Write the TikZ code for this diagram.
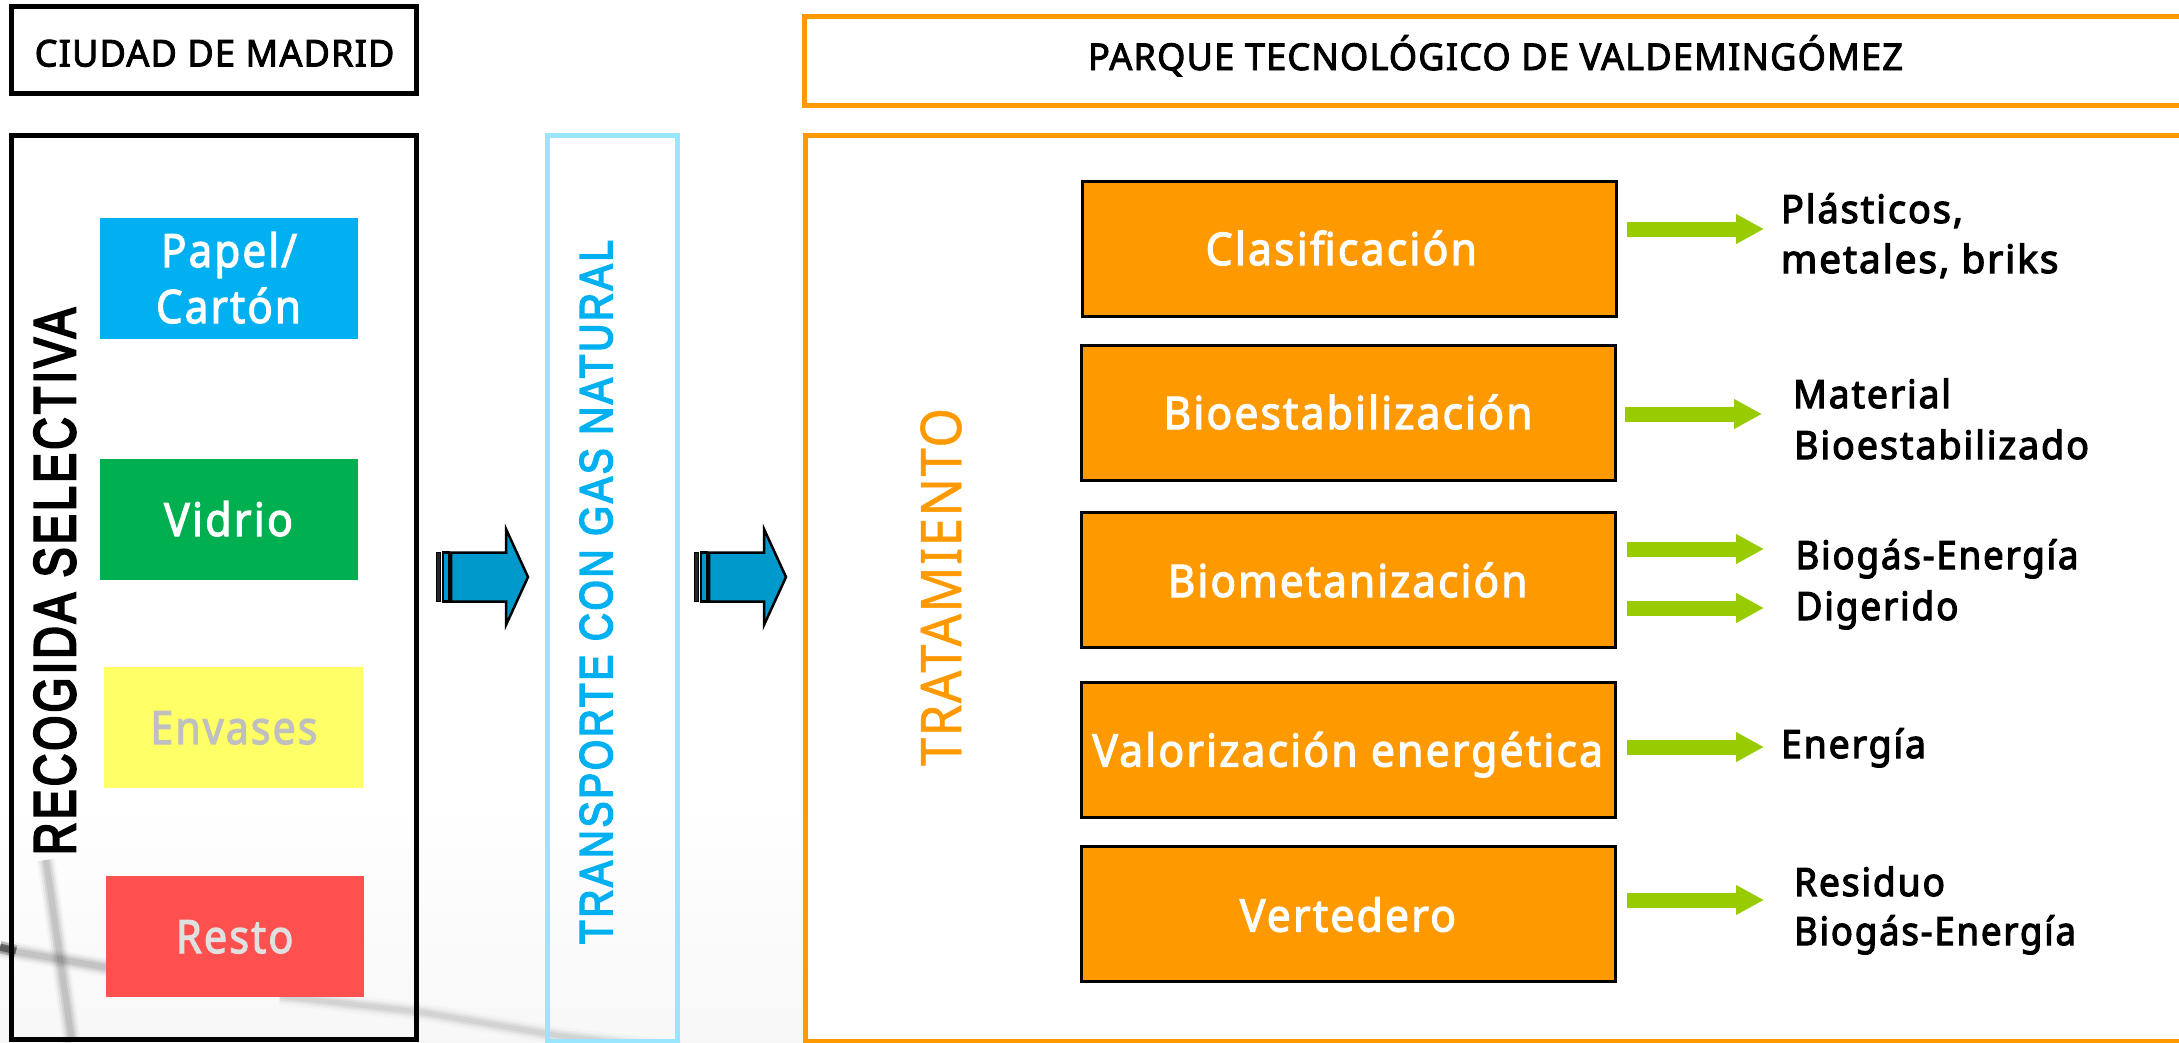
\documentclass[tikz,border=0pt]{standalone}
\usepackage{fontspec}
\usepackage{graphicx}
\usetikzlibrary{arrows.meta}
\setmainfont{Noto Sans}
\newfontfamily\lab[LetterSpace=5]{Noto Sans}
\newfontfamily\caps[LetterSpace=3]{Noto Sans}
\newfontfamily\ari[LetterSpace=7]{Liberation Sans}
% heaviness (outline width), font, size, width, text: text at a given size, stretched horizontally to a given width
\newcommand{\fit}[5]{\resizebox{#4pt}{\height}{\fontsize{#3}{#3}#2\selectfont\special{pdf:code 2 Tr #1 w}#5\special{pdf:code 0 Tr}}}
% baseline distance, kern 1, line 1, kern 2, line 2
\newcommand{\twoline}[5]{\vtop{\baselineskip=#1pt\lineskiplimit=-200pt\hbox{\kern#2pt #3}\hbox{\kern#4pt #5}}}
\definecolor{cOrange}{HTML}{FF9900}
\definecolor{cSky}{HTML}{00B0F0}
\definecolor{cPale}{HTML}{99E6FF}
\definecolor{cGreen}{HTML}{00B050}
\definecolor{cYellow}{HTML}{FFFF66}
\definecolor{cRed}{HTML}{FF5050}
\definecolor{cLime}{HTML}{99CC00}
\definecolor{cBlue}{HTML}{0099CC}
\tikzset{
  txt/.style={inner sep=0pt,outer sep=0pt,anchor=base west},
  vert/.style={inner sep=0pt,outer sep=0pt,anchor=base west,rotate=90},
  frame/.style={line width=5pt,fill=none},
  procbox/.style={draw=black,line width=3pt,fill=cOrange},
  outarrow/.style={draw=cLime,line width=15pt,-{Triangle[length=28pt,width=28pt,fill=cLime]}},
  blockarrow/.pic={
    \path[fill=cBlue,draw=black,line width=2.5pt,line join=miter]
      (15,-24.5) -- (70,-24.5) -- (70,-48) -- (92,0) -- (70,48) -- (70,24.5) -- (15,24.5) -- cycle;
    \path[fill=cBlue,draw=black,line width=2.5pt] (7,-24.5) rectangle (13,24.5);
    \path[fill=black!85,draw=black,line width=1pt] (0.5,-24.5) rectangle (4.5,24.5);
  },
  streak/.style={line cap=butt,line join=round}
}
\begin{document}
\begin{tikzpicture}[x=1pt,y=-1pt]
\useasboundingbox (0,0) rectangle (2179,1042);
\clip (0,0) rectangle (2179,1042);
% watermark
\shade[top color=white,bottom color=black!3] (0,800) rectangle (803,1042);
\foreach \w/\o in {18/.03,14/.05,10/.07,6/.08}{
  \draw[streak,line width=\w pt,black,opacity=\o] (46,860) -- (72,1042);
  \draw[streak,line width=\w pt,black,opacity=\o] (0,949) -- (110,968);
}
\foreach \w/\o in {18/.02,13/.03,9/.05,5/.05}{
  \draw[streak,line width=\w pt,black,opacity=\o] (280,996) -- (420,1012) -- (560,1036) -- (680,1050);
}
\foreach \w/\o in {12/.2,7/.4}{
  \draw[streak,line width=\w pt,black,opacity=\o] (0,947) -- (16,951);
}
% frames
\node[draw=black,line width=5pt,minimum width=405pt,minimum height=87pt,inner sep=0pt,outer sep=0pt,anchor=north west] (ciudad) at (11.5,6.5) {};
\node[txt] (ciudadT) at (34.7,66.5) {\fit{0.9}{\caps}{37}{359.7}{CIUDAD DE MADRID}};
\draw[frame,draw=black] (11.5,135.5) rectangle (416.5,1039.5);
\draw[frame,draw=cPale] (547.5,135.5) rectangle (677.5,1041);
\draw[frame,draw=cOrange,fill=white] (804,16.5) rectangle (2190,105);
\draw[line width=5pt,draw=cOrange,fill=white] (805.5,135.5) rectangle (2190,1041);
\node[txt] (parqueT) at (1088,70) {\fit{0.9}{\caps}{37}{815}{PARQUE TECNOLÓGICO DE VALDEMINGÓMEZ}};
% vertical titles
\node[vert] (recogida) at (75,855) {\fit{2.6}{\ari}{58.5}{547}{RECOGIDA SELECTIVA}};
\node[vert,text=cSky] (transporte) at (612,944) {\fit{1.8}{\ari}{46}{704}{TRANSPORTE CON GAS NATURAL}};
\node[vert,text=cOrange] (tratamiento) at (961,766) {\fit{0.5}{\caps}{56}{358}{TRATAMIENTO}};
% bins
\fill[cSky] (100,218) rectangle (358,339);
\fill[cGreen] (100,459) rectangle (358,580);
\fill[cYellow] (104,667) rectangle (363,788);
\fill[cRed] (106,876) rectangle (364,997);
\node[txt,text=white] (papel) at (156,267) {\twoline{56}{5}{\fit{1.2}{\lab}{46}{136}{Papel/}}{0}{\fit{1.2}{\lab}{46}{145}{Cartón}}};
\node[txt,text=white] (vidrio) at (164,536) {\fit{1.2}{\lab}{46}{129}{Vidrio}};
\node[txt,text=black!25] (envases) at (150.5,744) {\fit{1.2}{\lab}{46}{167}{Envases}};
\node[txt,text=black!12] (resto) at (176,953) {\fit{1.2}{\lab}{46}{117.4}{Resto}};
% block arrows
\pic at (436,577) {blockarrow};
\pic at (694,577) {blockarrow};
% process boxes
\draw[procbox] (1082,181.5) rectangle (1616,316.5);
\draw[procbox] (1081,345.5) rectangle (1615,480.5);
\draw[procbox] (1081,512.5) rectangle (1615,647.5);
\draw[procbox] (1081,682.5) rectangle (1615,817.5);
\draw[procbox] (1081,846.5) rectangle (1615,981.5);
\node[txt,text=white] (clasif) at (1205.6,265) {\fit{1.2}{\lab}{45}{271.4}{Clasificación}};
\node[txt,text=white] (bioest) at (1163.5,429) {\fit{1.2}{\lab}{45}{369}{Bioestabilización}};
\node[txt,text=white] (biomet) at (1167.8,597) {\fit{1.2}{\lab}{45}{359.6}{Biometanización}};
\node[txt,text=white] (valor) at (1092.3,766.5) {\fit{1.2}{\lab}{45}{510.7}{Valorización energética}};
\node[txt,text=white] (verted) at (1239.8,931.5) {\fit{1.2}{\lab}{45}{216.2}{Vertedero}};
% output arrows
\coordinate (a1s) at (1627,229);  \coordinate (a1e) at (1764,229);
\coordinate (a2s) at (1625,414);  \coordinate (a2e) at (1762,414);
\coordinate (a3s) at (1627,549);  \coordinate (a3e) at (1764,549);
\coordinate (a4s) at (1627,608);  \coordinate (a4e) at (1764,608);
\coordinate (a5s) at (1627,747);  \coordinate (a5e) at (1764,747);
\coordinate (a6s) at (1627,900);  \coordinate (a6e) at (1764,900);
\foreach \n in {1,...,6}{\draw[outarrow] (a\n s) -- (a\n e);}
% outputs
\node[txt] (o1) at (1781,223) {\twoline{50}{0}{\fit{1.2}{\lab}{39}{182}{Plásticos,}}{0}{\fit{1.2}{\lab}{39}{277.4}{metales, briks}}};
\node[txt] (o2) at (1793,408) {\twoline{51}{0}{\fit{1.2}{\lab}{39}{158}{Material}}{1}{\fit{1.2}{\lab}{39}{295}{Bioestabilizado}}};
\node[txt] (o3) at (1795.5,569) {\twoline{51}{0}{\fit{1.2}{\lab}{39}{283}{Biogás-Energía}}{0}{\fit{1.2}{\lab}{39}{163}{Digerido}}};
\node[txt] (o4) at (1781,758) {\fit{1.2}{\lab}{39}{145}{Energía}};
\node[txt] (o5) at (1794,896) {\twoline{49}{0}{\fit{1.2}{\lab}{39}{151}{Residuo}}{0}{\fit{1.2}{\lab}{39}{282}{Biogás-Energía}}};
\end{tikzpicture}
\end{document}
